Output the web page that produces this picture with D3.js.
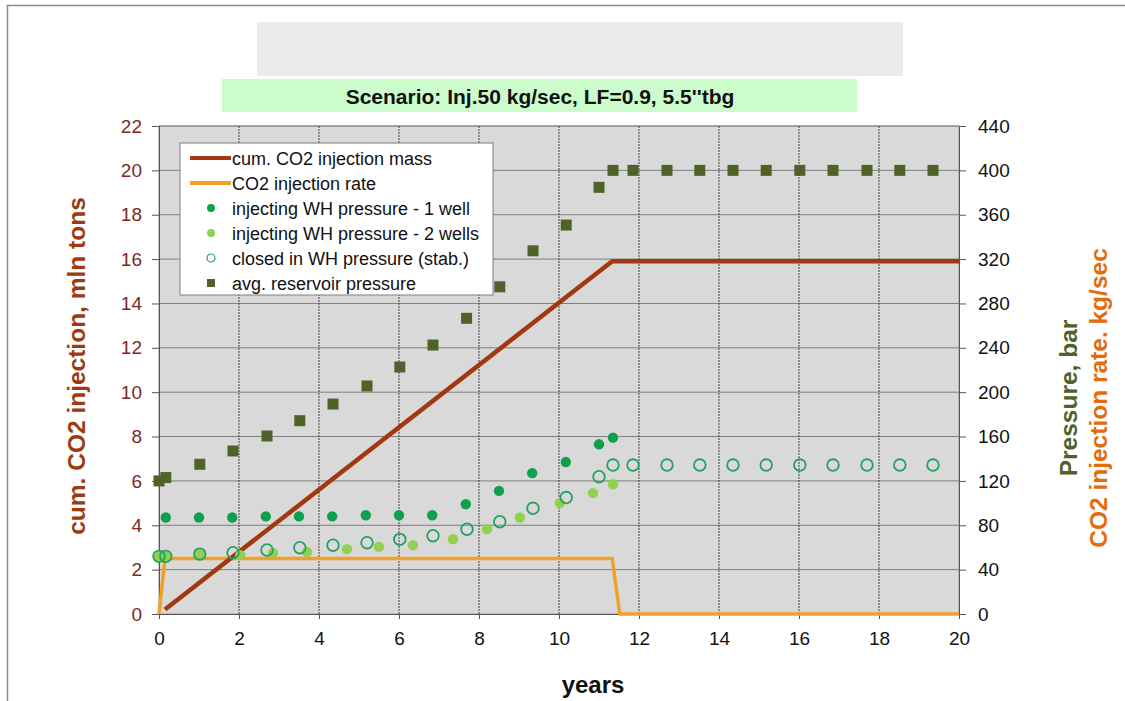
<!DOCTYPE html>
<html>
<head>
<meta charset="utf-8">
<script src="https://cdn.jsdelivr.net/npm/d3@7"></script>
<style>
  body { margin:0; background:#fff; }
  svg { font-family: "Liberation Sans", Arial, sans-serif; }
</style>
</head>
<body>
<svg width="1125" height="701"></svg>
<script>
// ---------------- data ----------------
var massX = [0.15, 11.33, 20];
var massY = [0.2, 15.9, 15.9];            // mln tons, left axis

var rateX = [0, 0.15, 11.33, 11.52, 20];
var rateY = [0, 50, 50, 0, 0];            // kg/sec, plotted on right axis

var well1X = [0.17, 1, 1.83, 2.67, 3.5, 4.33, 5.17, 6, 6.83, 7.67, 8.5, 9.33, 10.17, 11, 11.35];
var well1Y = [87, 87, 87, 88, 88, 88, 89, 89, 89, 99, 111, 127, 137, 153, 159];

var well2X = [0, 0.17, 1.02, 2.03, 2.85, 3.7, 4.7, 5.5, 6.35, 7.35, 8.2, 9.02, 10.02, 10.85, 11.35];
var well2Y = [52, 52, 54, 53, 55, 56, 58.5, 60.5, 62, 67.5, 76.5, 87, 100, 109, 117];

var closedX = [0, 0.17, 1.02, 1.85, 2.7, 3.52, 4.35, 5.2, 6.02, 6.85, 7.7, 8.52, 9.35, 10.18, 11.0,
               11.35, 11.85, 12.7, 13.52, 14.35, 15.18, 16.02, 16.85, 17.7, 18.52, 19.35];
var closedY = [52, 52, 54, 55.3, 57.7, 59.8, 62, 64.3, 67.3, 70.6, 76.4, 83.2, 95.3, 105, 123.8,
               134.3, 134.3, 134.3, 134.3, 134.3, 134.3, 134.3, 134.3, 134.3, 134.3, 134.3];

var resX = [0, 0.17, 1.02, 1.85, 2.7, 3.52, 4.35, 5.2, 6.02, 6.85, 7.69, 8.52, 9.35, 10.18, 11.0,
            11.35, 11.85, 12.7, 13.52, 14.35, 15.18, 16.02, 16.85, 17.7, 18.52, 19.35];
var resY = [120, 123, 135, 147, 160.5, 174.3, 189.3, 205.6, 222.7, 242.5, 266.6, 295, 327.5, 350.7, 384.7,
            400, 400, 400, 400, 400, 400, 400, 400, 400, 400, 400];

var xTicks = [0, 2, 4, 6, 8, 10, 12, 14, 16, 18, 20];
var leftTicks = [0, 2, 4, 6, 8, 10, 12, 14, 16, 18, 20, 22];
var rightTicks = [0, 40, 80, 120, 160, 200, 240, 280, 320, 360, 400, 440];

var legendNames = ["cum. CO2 injection mass", "CO2 injection rate", "injecting WH pressure - 1 well",
                   "injecting WH pressure - 2 wells", "closed in WH pressure (stab.)", "avg. reservoir pressure"];

var titleText = "Scenario: Inj.50 kg/sec, LF=0.9, 5.5''tbg";

// ---------------- colours ----------------
var cMass = "#a1380f", cRate = "#f4a027", c1 = "#0fa04e", c2 = "#92d050",
    cOpen = "#22a262", cRes = "#4f6228";

var svg = d3.select("svg");

var plot = { left:159, right:959, top:126, bottom:614 };

var xScale = d3.scaleLinear().domain([0,20]).range([plot.left, plot.right]);
var yLeft = d3.scaleLinear().domain([0,22]).range([plot.bottom, plot.top]);
var yRight = d3.scaleLinear().domain([0,440]).range([plot.bottom, plot.top]);

// outer frame
svg.append("path")
  .attr("d", "M7.5,701 L7.5,5.5 L1125,5.5")
  .attr("fill","none").attr("stroke","#8c8c8c").attr("stroke-width",1.5);

// header boxes
svg.append("rect").attr("x",257).attr("y",22).attr("width",646).attr("height",54).attr("fill","#ebebeb");
svg.append("rect").attr("x",222).attr("y",79).attr("width",635).attr("height",33).attr("fill","#ccfccc");
svg.append("text").attr("x",540).attr("y",104).attr("text-anchor","middle")
  .attr("font-size",21).attr("font-weight","bold").attr("fill","#111").text(titleText);

// plot background
svg.append("rect")
  .attr("x",plot.left).attr("y",plot.top)
  .attr("width",plot.right-plot.left).attr("height",plot.bottom-plot.top)
  .attr("fill","#d9d9d9").attr("stroke","#9a9a9a");

// horizontal grid
svg.append("g").selectAll("line").data(leftTicks.slice(1)).enter().append("line")
  .attr("x1",plot.left).attr("x2",plot.right)
  .attr("y1",function(d){return yLeft(d);}).attr("y2",function(d){return yLeft(d);})
  .attr("stroke","#7f7f7f").attr("stroke-width",1);

// vertical grid (dotted)
svg.append("g").selectAll("line").data(xTicks.slice(1, -1)).enter().append("line")
  .attr("x1",function(d){return xScale(d);}).attr("x2",function(d){return xScale(d);})
  .attr("y1",plot.top).attr("y2",plot.bottom)
  .attr("stroke","#404040").attr("stroke-width",1).attr("stroke-dasharray","2,1");

// axes
var xAxis = d3.axisBottom(xScale).tickValues(xTicks).tickSize(5).tickPadding(13);
var gx = svg.append("g").attr("transform","translate(0,"+plot.bottom+")").call(xAxis);
gx.selectAll("text").attr("font-size",19).attr("fill","#111").attr("font-family","Liberation Sans, Arial");

var leftAxis = d3.axisLeft(yLeft).tickValues(leftTicks).tickSize(7).tickPadding(10);
var gl = svg.append("g").attr("transform","translate("+plot.left+",0)").call(leftAxis);
gl.selectAll("text").attr("font-size",19).attr("fill","#7b2a22").attr("font-family","Liberation Sans, Arial");

var rightAxis = d3.axisRight(yRight).tickValues(rightTicks).tickSize(7).tickPadding(12);
var gr = svg.append("g").attr("transform","translate("+plot.right+",0)").call(rightAxis);
gr.selectAll("text").attr("font-size",19).attr("fill","#111").attr("font-family","Liberation Sans, Arial");

[gx, gl, gr].forEach(function(g){
  g.selectAll("path, line").attr("stroke","#555");
});

// axis titles
svg.append("text").attr("transform","translate(85,366) rotate(-90)").attr("text-anchor","middle")
  .attr("font-size",24.5).attr("font-weight","bold").attr("fill","#9c3a10")
  .text("cum. CO2 injection, mln tons");
svg.append("text").attr("transform","translate(1077,398) rotate(-90)").attr("text-anchor","middle")
  .attr("font-size",24.5).attr("font-weight","bold").attr("fill",cRes)
  .text("Pressure, bar");
svg.append("text").attr("transform","translate(1107,398) rotate(-90)").attr("text-anchor","middle")
  .attr("font-size",24.5).attr("font-weight","bold").attr("fill","#e46c0a")
  .text("CO2 injection rate. kg/sec");
svg.append("text").attr("x",593).attr("y",693).attr("text-anchor","middle")
  .attr("font-size",24).attr("font-weight","bold").attr("fill","#111").text("years");

// series
var massLine = d3.line()
  .x(function(d){return xScale(d[0]);}).y(function(d){return yLeft(d[1]);});
var rateLine = d3.line()
  .x(function(d){return xScale(d[0]);}).y(function(d){return yRight(d[1]);});

svg.append("path").datum(d3.zip(rateX, rateY)).attr("d", rateLine)
  .attr("fill","none").attr("stroke",cRate).attr("stroke-width",3.5).attr("stroke-linejoin","round");

svg.append("path").datum(d3.zip(massX, massY)).attr("d", massLine)
  .attr("fill","none").attr("stroke",cMass).attr("stroke-width",4.5).attr("stroke-linejoin","round");

svg.append("g").selectAll("rect").data(d3.zip(resX, resY)).enter().append("rect")
  .attr("x",function(d){return xScale(d[0])-5.5;}).attr("y",function(d){return yRight(d[1])-5.5;})
  .attr("width",11).attr("height",11).attr("fill",cRes);

svg.append("g").selectAll("circle").data(d3.zip(well2X, well2Y)).enter().append("circle")
  .attr("cx",function(d){return xScale(d[0]);}).attr("cy",function(d){return yRight(d[1]);})
  .attr("r",5.2).attr("fill",c2);

svg.append("g").selectAll("circle").data(d3.zip(closedX, closedY)).enter().append("circle")
  .attr("cx",function(d){return xScale(d[0]);}).attr("cy",function(d){return yRight(d[1]);})
  .attr("r",5.8).attr("fill","none").attr("stroke",cOpen).attr("stroke-width",1.8);

svg.append("g").selectAll("circle").data(d3.zip(well1X, well1Y)).enter().append("circle")
  .attr("cx",function(d){return xScale(d[0]);}).attr("cy",function(d){return yRight(d[1]);})
  .attr("r",5.2).attr("fill",c1);

// legend
var legend = svg.append("g").attr("transform","translate(180,143)");
legend.append("rect").attr("width",313).attr("height",152)
  .attr("fill","#fff").attr("stroke","#7f7f7f");
var rows = legend.selectAll("g.row").data(legendNames).enter().append("g")
  .attr("transform",function(d,i){return "translate(0,"+(15+i*25)+")";});
rows.append("text").attr("x",52).attr("y",6.5).attr("font-size",18).attr("fill","#111")
  .text(function(d){return d;});
rows.each(function(d,i){
  var r = d3.select(this);
  if (i == 0 || i == 1) {
    r.append("line").attr("x1",10).attr("x2",51).attr("y1",0).attr("y2",0)
      .attr("stroke", i == 0 ? cMass : cRate).attr("stroke-width",4);
  } else if (i == 2) {
    r.append("circle").attr("cx",31).attr("cy",0).attr("r",4).attr("fill",c1);
  } else if (i == 3) {
    r.append("circle").attr("cx",31).attr("cy",0).attr("r",4).attr("fill",c2);
  } else if (i == 4) {
    r.append("circle").attr("cx",31).attr("cy",0).attr("r",4).attr("fill","none")
      .attr("stroke",cOpen).attr("stroke-width",1.2);
  } else {
    r.append("rect").attr("x",27).attr("y",-4).attr("width",8).attr("height",8).attr("fill",cRes);
  }
});
</script>
</body>
</html>
